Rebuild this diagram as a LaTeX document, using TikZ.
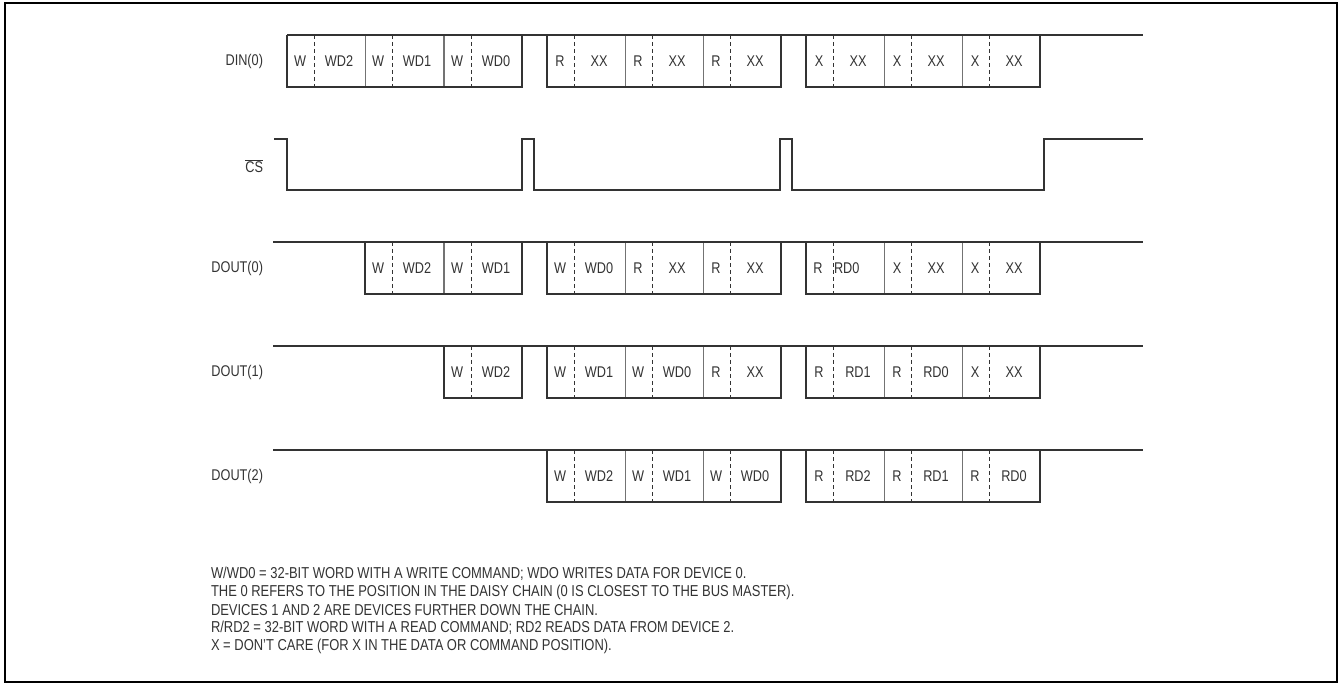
\documentclass[tikz,border=0pt]{standalone}
\usepackage{fontspec}
\setmainfont{Liberation Sans}[FakeStretch=0.82]
\definecolor{ink}{HTML}{333333}
\tikzset{
  sig/.style={line width=1.3pt, draw=ink},
  dsh/.style={line width=1pt, draw=ink, dash pattern=on 4pt off 3pt},
  lbl/.style={font=\fontsize{15.5}{18}\selectfont, text=ink, inner sep=0pt, outer sep=0pt},
  note/.style={font=\fontsize{15.8}{18}\selectfont, text=ink, inner sep=0pt, outer sep=0pt, anchor=west},
  slotst/.style={draw=black!55, line width=1pt, minimum width=78pt, minimum height=52pt, inner sep=0pt, outer sep=0pt},
}
% name, x, ytop, cmd, data
\newcommand\tslot[5]{%
  \node[slotst, anchor=north west] (#1) at (#2,#3) {};
  \draw[dsh] ([xshift=27pt]#1.north west) -- ([xshift=27pt]#1.south west);
  \node[lbl] (#1c) at ([xshift=13pt]#1.west) {#4};
  \node[lbl] (#1d) at ([xshift=52pt]#1.west) {#5};
}
% left-aligned data variant
\newcommand\tslotl[5]{%
  \node[slotst, anchor=north west] (#1) at (#2,#3) {};
  \draw[dsh] ([xshift=27pt]#1.north west) -- ([xshift=27pt]#1.south west);
  \node[lbl] (#1c) at ([xshift=12pt]#1.west) {#4};
  \node[lbl, anchor=west] (#1d) at ([xshift=28pt]#1.west) {#5};
}
\newcommand\grp[2]{% first, last
  \draw[sig] (#1.north west) -- (#1.south west) -- (#2.south east) -- (#2.north east);
}
\begin{document}
\begin{tikzpicture}[x=1pt, y=-1pt]
\useasboundingbox (0,0) rectangle (1341,684);
\draw[line width=2pt, black] (4.5,3.5) rectangle (1336.5,681.5);

% ---------- DIN(0)
\node[lbl, anchor=east] (ldin) at (263,61) {DIN(0)};
\tslot{a1}{287}{35}{W}{WD2}
\tslot{a2}{365}{35}{W}{WD1}
\tslot{a3}{444}{35}{W}{WD0}
\grp{a1}{a3}
\tslot{a4}{547}{35}{R}{XX}
\tslot{a5}{625}{35}{R}{XX}
\tslot{a6}{703}{35}{R}{XX}
\grp{a4}{a6}
\tslot{a7}{806}{35}{X}{XX}
\tslot{a8}{884}{35}{X}{XX}
\tslot{a9}{962}{35}{X}{XX}
\grp{a7}{a9}
\coordinate (dinE) at (1143,35);
\draw[sig] (a1.north west) -- (dinE);

% ---------- CS
\node[lbl, anchor=east] (lcs) at (263,166) {$\overline{\hbox{CS}}$};
\coordinate (cs0) at (274,139);
\coordinate (cs1) at (287,139);
\coordinate (cs2) at (287,190);
\coordinate (cs3) at (522,190);
\coordinate (cs4) at (522,139);
\coordinate (cs5) at (534,139);
\coordinate (cs6) at (534,190);
\coordinate (cs7) at (780,190);
\coordinate (cs8) at (780,139);
\coordinate (cs9) at (792,139);
\coordinate (cs10) at (792,190);
\coordinate (cs11) at (1044,190);
\coordinate (cs12) at (1044,139);
\coordinate (cs13) at (1143,139);
\draw[sig] (cs0) -- (cs1) -- (cs2) -- (cs3) -- (cs4) -- (cs5) -- (cs6) -- (cs7)
  -- (cs8) -- (cs9) -- (cs10) -- (cs11) -- (cs12) -- (cs13);

% ---------- DOUT(0)
\node[lbl, anchor=east] (ld0) at (263,268) {DOUT(0)};
\tslot{b2}{365}{242}{W}{WD2}
\tslot{b3}{444}{242}{W}{WD1}
\grp{b2}{b3}
\tslot{b4}{547}{242}{W}{WD0}
\tslot{b5}{625}{242}{R}{XX}
\tslot{b6}{703}{242}{R}{XX}
\grp{b4}{b6}
\tslotl{b7}{806}{242}{R}{RD0}
\tslot{b8}{884}{242}{X}{XX}
\tslot{b9}{962}{242}{X}{XX}
\grp{b7}{b9}
\coordinate (d0S) at (273,242);
\coordinate (d0E) at (1143,242);
\draw[sig] (d0S) -- (d0E);

% ---------- DOUT(1)
\node[lbl, anchor=east] (ld1) at (263,372) {DOUT(1)};
\tslot{c3}{444}{346}{W}{WD2}
\grp{c3}{c3}
\tslot{c4}{547}{346}{W}{WD1}
\tslot{c5}{625}{346}{W}{WD0}
\tslot{c6}{703}{346}{R}{XX}
\grp{c4}{c6}
\tslot{c7}{806}{346}{R}{RD1}
\tslot{c8}{884}{346}{R}{RD0}
\tslot{c9}{962}{346}{X}{XX}
\grp{c7}{c9}
\coordinate (d1S) at (273,346);
\coordinate (d1E) at (1143,346);
\draw[sig] (d1S) -- (d1E);

% ---------- DOUT(2)
\node[lbl, anchor=east] (ld2) at (263,476) {DOUT(2)};
\tslot{e4}{547}{450}{W}{WD2}
\tslot{e5}{625}{450}{W}{WD1}
\tslot{e6}{703}{450}{W}{WD0}
\grp{e4}{e6}
\tslot{e7}{806}{450}{R}{RD2}
\tslot{e8}{884}{450}{R}{RD1}
\tslot{e9}{962}{450}{R}{RD0}
\grp{e7}{e9}
\coordinate (d2S) at (273,450);
\coordinate (d2E) at (1143,450);
\draw[sig] (d2S) -- (d2E);

% ---------- notes
\node[note] (n1) at (211,574) {W/WD0 = 32-BIT WORD WITH A WRITE COMMAND; WDO WRITES DATA FOR DEVICE 0.};
\node[note] (n2) at (211,592) {THE 0 REFERS TO THE POSITION IN THE DAISY CHAIN (0 IS CLOSEST TO THE BUS MASTER).};
\node[note] (n3) at (211,610) {DEVICES 1 AND 2 ARE DEVICES FURTHER DOWN THE CHAIN.};
\node[note] (n4) at (211,628) {R/RD2 = 32-BIT WORD WITH A READ COMMAND; RD2 READS DATA FROM DEVICE 2.};
\node[note] (n5) at (211,646) {X = DON'T CARE (FOR X IN THE DATA OR COMMAND POSITION).};
\end{tikzpicture}
\end{document}
